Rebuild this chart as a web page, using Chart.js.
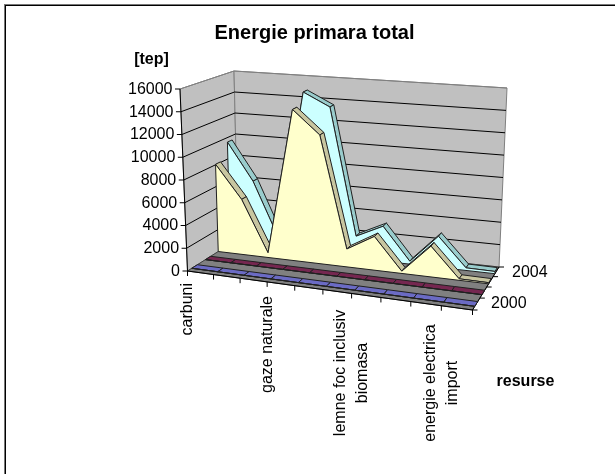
<!DOCTYPE html>
<html><head><meta charset="utf-8">
<style>html,body{margin:0;padding:0;background:#fff}canvas{display:block}</style>
<script src="https://cdn.jsdelivr.net/npm/chart.js@4"></script>
</head><body><canvas id="c" width="615" height="474"></canvas>
<script>
const chartTitle = 'Energie primara total';
const valueTicks = [0,2000,4000,6000,8000,10000,12000,14000,16000];
const seriesNames = ['2000','2001','2002','2004'];
const values2000 = [0,0,0,0,0,0,0,0,0,0,0];
const values2001 = [0,0,0,0,0,0,0,0,0,0,0];
const values2002 = [8050,5050,430,13700,11600,1600,3000,200,2700,130,100];
const values2004 = [9580,6120,1000,14800,13600,2000,3160,260,2780,230,200];
const categoryLabels = {0:['carbuni'],3:['gaze naturale'],6:['lemne foc inclusiv','biomasa'],9:['energie electrica','import']};
const faceColors = ['#9999FF','#993366','#FFFFCC','#CCFFFF'];
const ribbonColors = ['#6B6BC4','#752750','#C8C6A0','#99CCCC'];
const allValues = [values2000,values2001,values2002,values2004];

// Perspective box: corners of the plot [x, y] for (front/back, left/right, bottom/top)
const box = {
  flb:[187.5,271], frb:[472.5,310], blb:[238,239], brb:[499,267],
  flt:[180,89],    frt:[481,118],   blt:[234,71],  brt:[507,88]
};
const lerp=(a,b,t)=>a+(b-a)*t;
const depth=z=>z/(z+0.87*(1-z));
const across=w=>w/(w+1.105*(1-w));
function project(c,z,v){ // c: category 0..10, z: depth 0..1, v: value
  const u=across(c/10),s=depth(z),t=v/16000,r=[];
  for(const i of [0,1]){
    const fb=lerp(box.flb[i],box.frb[i],u),bb=lerp(box.blb[i],box.brb[i],u);
    const ft=lerp(box.flt[i],box.frt[i],u),bt=lerp(box.blt[i],box.brt[i],u);
    r.push(lerp(lerp(fb,bb,s),lerp(ft,bt,s),t));
  }
  return {x:r[0],y:r[1]};
}
const datasets=[];
function poly(pts,fill,stroke,w){
  datasets.push({data:pts,showLine:true,pointRadius:0,pointHoverRadius:0,
    fill:fill?'shape':false,backgroundColor:fill||'transparent',
    borderColor:stroke||'transparent',borderWidth:stroke?(w||1):0,
    borderDash:[2000,0],tension:0,clip:false});
}
// walls and floor
poly([project(0,0,0),project(0,1,0),project(0,1,16000),project(0,0,16000),project(0,0,0)],'#C0C0C0','#808080');
poly([project(0,1,0),project(10,1,0),project(10,1,16000),project(0,1,16000),project(0,1,0)],'#C0C0C0','#808080');
poly([project(0,0,0),project(10,0,0),project(10,1,0),project(0,1,0),project(0,0,0)],'#808080','#404040');
// gridlines
valueTicks.forEach(v=>{ if(v===0) return;
  const col = v===16000 ? '#808080' : '#000000';
  poly([project(0,0,v),project(0,1,v),project(10,1,v)],null,col);
});
// axis line and ticks
poly([project(0,0,0),project(0,0,16000)],null,'#000000');
valueTicks.forEach(v=>{const p=project(0,0,v);poly([p,{x:p.x-5,y:p.y}],null,'#000000');});
for(let c=0;c<=10;c++){const p=project(c,0,0);poly([p,{x:p.x,y:p.y+5}],null,'#000000');}
poly([project(0,0,0),project(10,0,0),project(10,1,0)],null,'#000000');
for(let k=0;k<=4;k++){const p=project(10,k/4,0);poly([p,{x:p.x+5,y:p.y}],null,'#000000');}
// series lanes, back to front
for(let k=allValues.length-1;k>=0;k--){
  const vals=allValues[k],zF=(k+.3)/4,zB=(k+.7)/4;
  for(let c=0;c<vals.length-1;c++){
    poly([project(c,zF,vals[c]),project(c+1,zF,vals[c+1]),project(c+1,zB,vals[c+1]),project(c,zB,vals[c]),project(c,zF,vals[c])],ribbonColors[k],'#202020');
  }
  const face=[project(0,zF,0)];
  vals.forEach((v,c)=>face.push(project(c,zF,v)));
  face.push(project(10,zF,0),project(0,zF,0));
  poly(face,faceColors[k],'#202020');
}
datasets.forEach((d,i)=>d.order=datasets.length-i);

function text(ctx,s,x,y,font,align,rot){
  ctx.save();ctx.translate(x,y);if(rot)ctx.rotate(rot);
  ctx.font=font;ctx.fillStyle='#000';ctx.textAlign=align;ctx.textBaseline='middle';
  ctx.fillText(s,0,0);ctx.restore();
}
const labelPlugin={id:'labels',
  beforeDraw(ch){const g=ch.ctx;g.save();g.fillStyle='#fff';g.fillRect(0,0,615,474);
    g.fillStyle='#777';g.fillRect(4,4,611,1);g.fillRect(4,4,1,470);
    g.fillStyle='#000';g.fillRect(5,5,610,1);g.fillRect(5,5,1,469);g.restore();},
  afterDatasetsDraw(ch){
    const g=ch.ctx,F='16px "Liberation Sans", Arial, sans-serif',B='bold 16px "Liberation Sans", Arial, sans-serif';
    valueTicks.forEach(v=>{const p=project(0,0,v);text(g,String(v),p.x-7.5,p.y+.5,F,'right');});
    text(g,seriesNames[0],491,304,F,'left');
    text(g,seriesNames[3],512,273,F,'left');
    const tops={0:283,3:296};
    const mid={6:373,9:383};
    Object.keys(categoryLabels).forEach(c=>{
      const lines=categoryLabels[c],p=project(+c,0,0);
      if(lines.length===1) text(g,lines[0],p.x,tops[c],F,'right',-Math.PI/2);
      else lines.forEach((s,i)=>text(g,s,p.x+(i-.5)*22,mid[c],F,'center',-Math.PI/2));
    });
    text(g,'[tep]',151.5,60,B,'center');
    text(g,'resurse',525.5,382,B,'center');
  }};
new Chart(document.getElementById('c'),{
  type:'scatter',data:{datasets},plugins:[labelPlugin],
  options:{responsive:false,animation:false,events:[],
    layout:{padding:{left:14}},
    plugins:{legend:{display:false},tooltip:{enabled:false},
      title:{display:true,text:chartTitle,color:'#000',padding:{top:21,bottom:0},
        font:{family:'"Liberation Sans", Arial, sans-serif',size:20,weight:'bold',lineHeight:1.2}}},
    scales:{x:{type:'linear',display:false,min:14,max:615},
            y:{type:'linear',display:false,min:45,max:474,reverse:true}}}
});
</script></body></html>
